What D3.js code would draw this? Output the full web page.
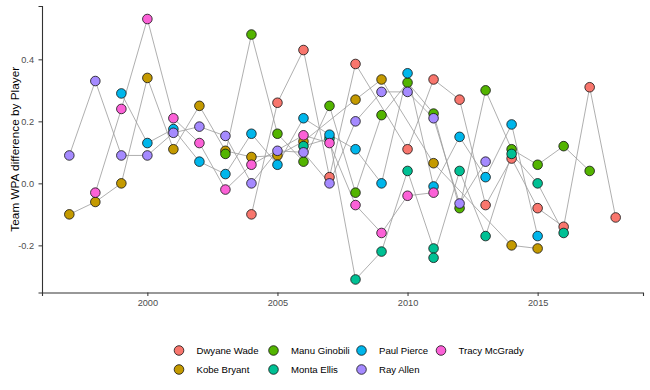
<!DOCTYPE html>
<html>
<head>
<meta charset="utf-8">
<script src="https://cdn.jsdelivr.net/npm/d3@7"></script>
<style>
  html, body { margin: 0; padding: 0; background: #fff; }
  svg { display: block; font-family: "Liberation Sans", Arial, sans-serif; }
</style>
</head>
<body>
<svg id="chart" width="650" height="390"></svg>
<script>
// ---- data ----
const players = ["Dwyane Wade", "Kobe Bryant", "Manu Ginobili", "Monta Ellis", "Paul Pierce", "Ray Allen", "Tracy McGrady"];
const colors = ["#F8766D", "#C49A00", "#53B400", "#00C094", "#00B6EB", "#A58AFF", "#FB61D7"];

const wadeYears = [2004, 2005, 2006, 2007, 2008, 2010, 2011, 2012, 2013, 2014, 2015, 2016, 2017, 2018];
const wadeWPA   = [-0.10, 0.26, 0.43, 0.02, 0.385, 0.11, 0.335, 0.27, -0.07, 0.08, -0.08, -0.14, 0.31, -0.11];

const kobeYears = [1997, 1998, 1999, 2000, 2001, 2002, 2003, 2004, 2005, 2006, 2008, 2009, 2011, 2014, 2015];
const kobeWPA   = [-0.10, -0.06, 0.00, 0.34, 0.11, 0.25, 0.105, 0.085, 0.09, 0.135, 0.27, 0.335, 0.065, -0.20, -0.21];

const manuYears = [2003, 2004, 2005, 2006, 2007, 2008, 2009, 2010, 2011, 2012, 2013, 2014, 2015, 2016, 2017];
const manuWPA   = [0.095, 0.48, 0.16, 0.07, 0.25, -0.03, 0.22, 0.325, 0.225, -0.08, 0.30, 0.11, 0.06, 0.12, 0.04];

const montaYears = [2006, 2007, 2008, 2009, 2010, 2011, 2011, 2012, 2013, 2014, 2015, 2016];
const montaWPA   = [0.12, 0.145, -0.31, -0.22, 0.04, -0.21, -0.24, 0.04, -0.17, 0.095, 0.00, -0.16];

const paulYears = [1999, 2000, 2001, 2002, 2003, 2004, 2005, 2006, 2007, 2008, 2009, 2010, 2011, 2012, 2013, 2014, 2015];
const paulWPA   = [0.29, 0.13, 0.175, 0.07, 0.03, 0.16, 0.06, 0.21, 0.157, 0.11, 0.00, 0.355, -0.01, 0.15, 0.02, 0.19, -0.17];

const rayYears = [1997, 1998, 1999, 2000, 2001, 2002, 2003, 2004, 2005, 2006, 2007, 2008, 2009, 2010, 2011, 2012, 2013];
const rayWPA   = [0.09, 0.33, 0.09, 0.09, 0.163, 0.183, 0.153, 0.00, 0.105, 0.10, 0.00, 0.20, 0.295, 0.295, 0.21, -0.065, 0.07];

const tracyYears = [1998, 1999, 2000, 2001, 2002, 2003, 2004, 2006, 2007, 2008, 2009, 2010, 2011];
const tracyWPA   = [-0.03, 0.24, 0.53, 0.21, 0.13, -0.02, 0.06, 0.155, 0.13, -0.07, -0.16, -0.04, -0.03];

const xTicks = [2000, 2005, 2010, 2015];
const yTicks = [-0.2, 0.0, 0.2, 0.4];
const yTitle = "Team WPA difference by Player";

const seriesYears = [wadeYears, kobeYears, manuYears, montaYears, paulYears, rayYears, tracyYears];
const seriesWPA   = [wadeWPA, kobeWPA, manuWPA, montaWPA, paulWPA, rayWPA, tracyWPA];

const series = players.map((p, i) => ({
  name: p,
  color: colors[i],
  points: seriesYears[i].map((yr, j) => ({ year: yr, v: seriesWPA[i][j], name: p, color: colors[i] }))
}));

// ---- layout ----
const svg = d3.select("#chart");
const mLeft = 42, mRight = 643, mTop = 6, mBottom = 292.5;

const allYears = seriesYears.flat();
const allV = seriesWPA.flat();
const xMin = d3.min(allYears), xMax = d3.max(allYears);
const yMin = d3.min(allV), yMax = d3.max(allV);
const xPad = (xMax - xMin) * 0.05, yPad = (yMax - yMin) * 0.05;

const x = d3.scaleLinear().domain([xMin - xPad, xMax + xPad]).range([mLeft, mRight]);
const y = d3.scaleLinear().domain([yMin - yPad, yMax + yPad]).range([mBottom, mTop]);

// lines
const line = d3.line().x(d => x(d.year)).y(d => y(d.v));
svg.append("g").selectAll("path")
  .data(series)
  .join("path")
  .attr("d", d => line(d.points))
  .attr("fill", "none")
  .attr("stroke", "#9a9a9a")
  .attr("stroke-width", 0.8);

// points
svg.append("g").selectAll("circle")
  .data(series.flatMap(s => s.points))
  .join("circle")
  .attr("cx", d => x(d.year))
  .attr("cy", d => y(d.v))
  .attr("r", 4.8)
  .attr("fill", d => d.color)
  .attr("stroke", "#111")
  .attr("stroke-width", 0.8);

// axes
const fmt = v => d3.format(".1f")(v).replace("\u2212", "-");
const yAxis = svg.append("g")
  .attr("transform", `translate(${mLeft},0)`)
  .call(d3.axisLeft(y).tickValues(yTicks).tickFormat(fmt).tickSize(3.5).tickPadding(4.5));
const xAxis = svg.append("g")
  .attr("transform", `translate(0,${mBottom})`)
  .call(d3.axisBottom(x).tickValues(xTicks).tickFormat(d3.format("d")).tickSize(3.5).tickPadding(3.5));

[yAxis, xAxis].forEach(a => {
  a.select(".domain").attr("stroke", "#333").attr("stroke-width", 1.1);
  a.selectAll(".tick line").attr("stroke", "#333").attr("stroke-width", 1);
  a.selectAll(".tick text").attr("fill", "#4D4D4D").attr("font-size", 9.2)
    .attr("font-family", "'Liberation Sans', Arial, sans-serif");
});

// y title
svg.append("text")
  .attr("transform", `translate(15,${(mTop + mBottom) / 2}) rotate(-90)`)
  .attr("text-anchor", "middle")
  .attr("dy", "0.35em")
  .attr("font-size", 11.8)
  .attr("fill", "#000")
  .text(yTitle);

// legend (2 rows, filled by column)
const legX = [179, 273.5, 361.5, 441];
const legY = [350.5, 369.5];
const leg = svg.append("g").selectAll("g")
  .data(players)
  .join("g")
  .attr("transform", (d, i) => `translate(${legX[Math.floor(i / 2)]},${legY[i % 2]})`);
leg.append("circle")
  .attr("r", 4.8)
  .attr("fill", (d, i) => colors[i])
  .attr("stroke", "#111")
  .attr("stroke-width", 0.8);
leg.append("text")
  .attr("x", 17.5)
  .attr("dy", "0.35em")
  .attr("font-size", 9.6)
  .attr("fill", "#000")
  .text(d => d);
</script>
</body>
</html>
